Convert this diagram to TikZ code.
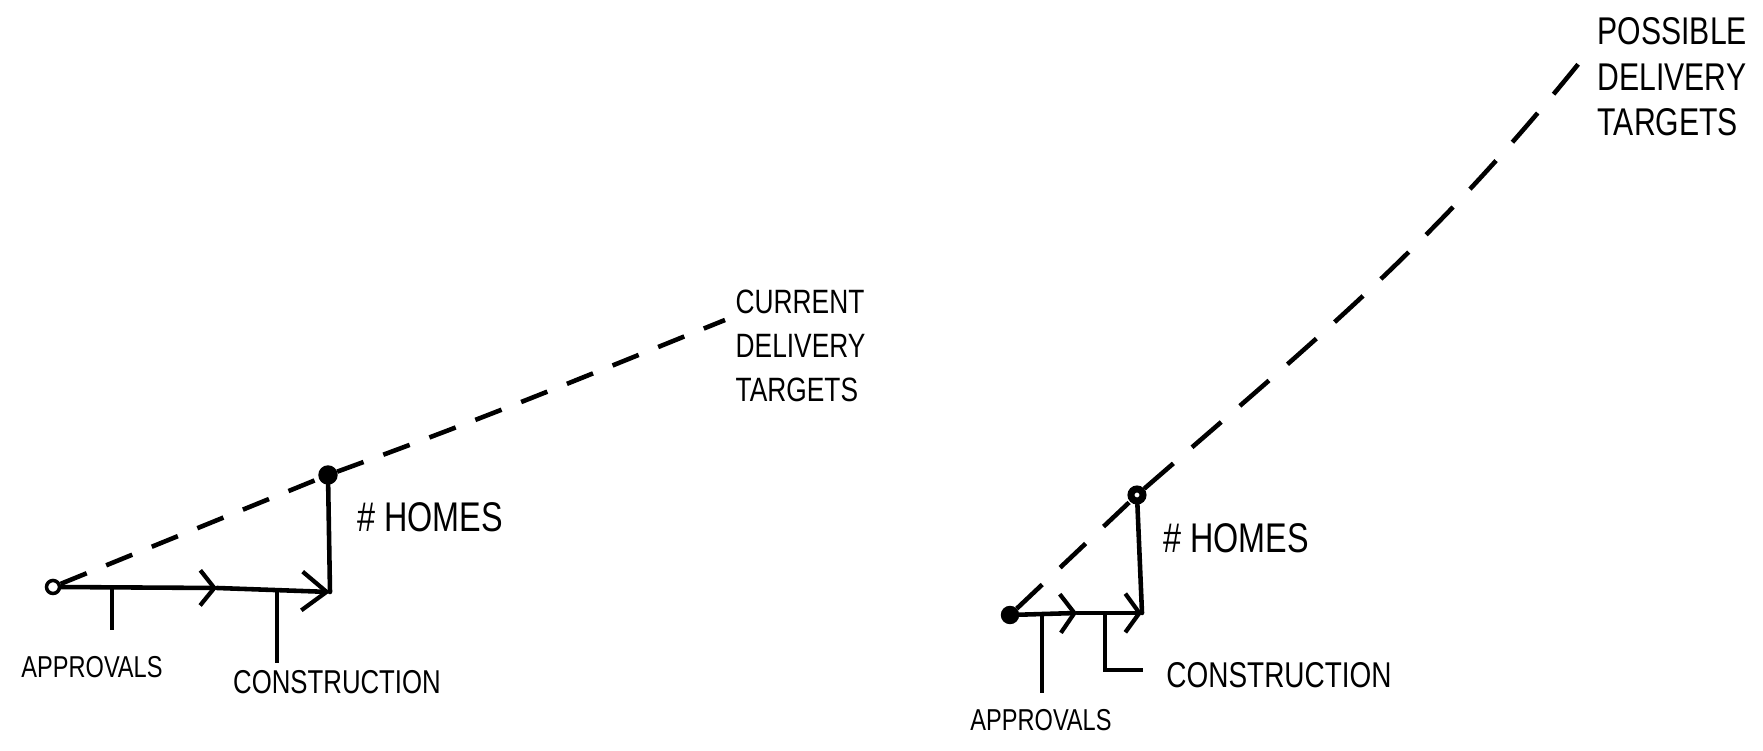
\documentclass[tikz,border=0pt]{standalone}
\usepackage{fontspec}
\newfontfamily\hand{Liberation Sans}[FakeStretch=0.78]
\usetikzlibrary{arrows.meta}

\begin{document}
\begin{tikzpicture}[
    track/.style={line width=1.3pt, line cap=round},
    tick/.style={line width=1pt},
    target/.style={line width=1.3pt, dash pattern=on 8pt off 6pt},
    hop/.style={-{Straight Barb[length=4pt, width=10pt, line width=1.2pt]}},
    lbl/.style={font=\hand\fontsize{9}{11}\selectfont, inner sep=0pt},
    ring/.style={circle, draw, line width=1pt, inner sep=0pt, minimum size=0.13cm},
    blob/.style={circle, draw, fill, inner sep=0pt, minimum size=0.15cm}]
  \useasboundingbox (0,0) rectangle (17.63,7.51);

  % left sketch: current targets
  \node[ring] (s1) at (0.53,1.64) {};
  \coordinate (m1) at (2.17,1.63);
  \coordinate (c1) at (3.30,1.59);
  \node[blob, minimum size=0.18cm] (d1) at (3.28,2.76) {};
  \coordinate (e1) at (7.25,4.31);
  \coordinate (a1) at (1.12,1.63);
  \coordinate (a1b) at (1.12,1.21);
  \coordinate (b1) at (2.77,1.60);
  \coordinate (b1b) at (2.77,0.88);

  \draw[track, hop] (s1) -- (m1);
  \draw[track, -{Straight Barb[length=7pt, width=11pt, line width=1.2pt]}] (m1) -- (c1);
  \draw[track] (c1) -- (d1);
  \draw[target] (s1) -- (d1);
  \draw[target] (d1) to[out=20, in=202] (e1);
  \draw[tick] (a1) -- (a1b);
  \draw[tick] (b1) -- (b1b);

  \node[lbl, font=\hand\fontsize{8.6}{11}\selectfont] (ap1) at (0.92,0.84) {APPROVALS};
  \node[lbl, font=\hand\fontsize{9.4}{11}\selectfont] (co1) at (3.37,0.69) {CONSTRUCTION};
  \node[lbl, font=\hand\fontsize{11.8}{14}\selectfont] (ho1) at (4.30,2.34) {\#~HOMES};
  \node[lbl, anchor=west, align=left, font=\hand\fontsize{9.6}{12.5}\selectfont] (cu1) at (7.35,4.05) {CURRENT\\DELIVERY\\TARGETS};

  % right sketch: possible targets
  \node[blob, minimum size=0.17cm] (s2) at (10.10,1.36) {};
  \coordinate (m2) at (10.77,1.38);
  \coordinate (c2) at (11.42,1.38);
  \node[ring, line width=2pt, minimum size=0.12cm] (d2) at (11.37,2.56) {};
  \coordinate (e2) at (15.80,6.89);
  \coordinate (a2) at (10.42,1.37);
  \coordinate (a2b) at (10.42,0.58);
  \coordinate (b2) at (11.05,1.38);
  \coordinate (b2b) at (11.05,0.81);
  \coordinate (b2c) at (11.43,0.81);

  \draw[track, -{Straight Barb[length=4pt, width=11pt, line width=1.2pt]}] (s2) -- (m2);
  \draw[track, -{Straight Barb[length=4pt, width=11pt, line width=1.2pt]}] (m2) -- (c2);
  \draw[track] (c2) -- (d2);
  \draw[target, dash pattern=on 10pt off 7pt] (s2) -- (d2);
  \draw[target, dash pattern=on 11pt off 7pt] (d2) to[out=41, in=231] (e2);
  \draw[tick] (a2) -- (a2b);
  \draw[tick] (b2) -- (b2b) -- (b2c);

  \node[lbl, font=\hand\fontsize{8.6}{11}\selectfont] (ap2) at (10.41,0.31) {APPROVALS};
  \node[lbl, font=\hand\fontsize{10.2}{12}\selectfont] (co2) at (12.79,0.76) {CONSTRUCTION};
  \node[lbl, font=\hand\fontsize{11.8}{14}\selectfont] (ho2) at (12.36,2.13) {\#~HOMES};
  \node[lbl, anchor=west, align=left, font=\hand\fontsize{11}{13}\selectfont] (po2) at (15.97,6.74) {POSSIBLE\\DELIVERY\\TARGETS};
\end{tikzpicture}
\end{document}
